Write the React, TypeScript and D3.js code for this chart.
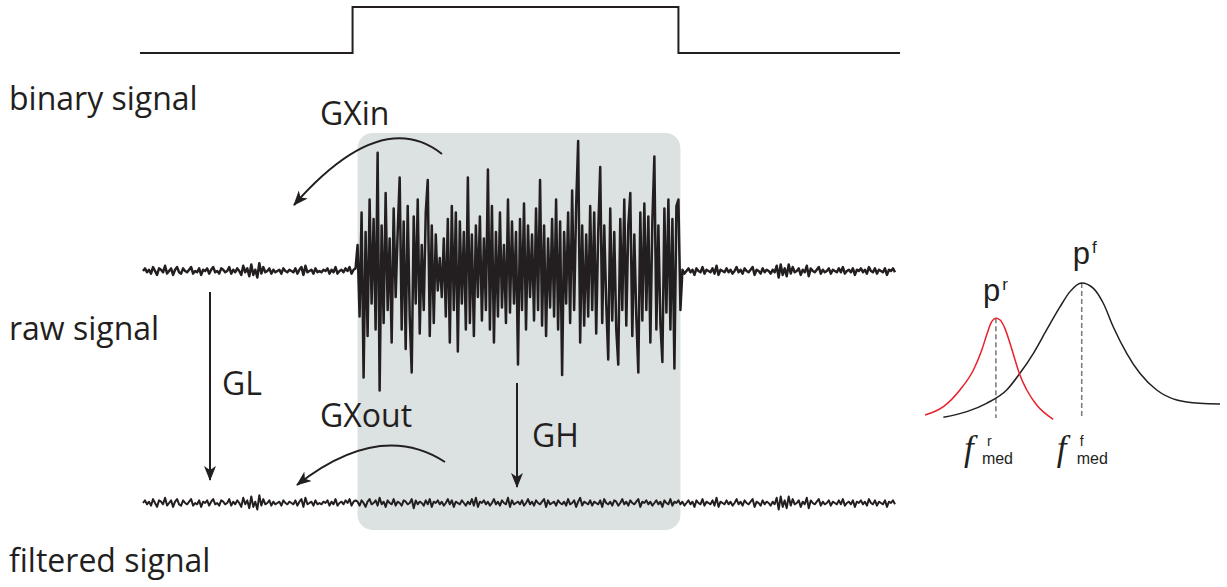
import React from 'react';
import * as d3 from 'd3';

// raw trace before the burst (arbitrary units, +-100 = full burst swing)
const quietLeft = [
  0, 2, -1, 1, -2, 3, 0, -3, 2, 1,
  -1, 4, -2, 0, 2, -3, 1, 3, -1, -2,
  2, 0, -1, 1, 3, -2, 0, -1, 2, -3,
  1, 0, 2, -2, 1, 3, -1, 0, -2, 2,
  1, -1, 0, 3, -2, 1, -1, 2, 0, -3,
  4, -1, 2, -4, 5, -3, 1, -5, 6, -2,
  3, -1, 0, 2, -2, 1, -1, 0, 1, -2,
  2, 0, -1, 1, 0, -1, 2, -2, 1, 3,
  -3, 4, -1, 0, 1, -2, 2, -1, 0, -1,
  1, 0, 2, -2, 1, -1, 3, -2, 0, 1,
  -1, 2, 0, 3, -2, 1, 2,
];

// raw trace during the burst
const burst = [
  20, -35, 45, -82, 30, -50, 55, -25, 40, -45,
  91, -92, 35, -40, 60, -30, 25, -55, 48, -20,
  30, 72, -45, 38, -60, 50, -35, -78, 42, -25,
  55, -48, 20, -30, 45, 70, -50, 35, -40, 28,
  -15, 10, -20, 25, -35, 40, -55, 50, -30, 45,
  -62, 38, -25, 30, -45, 72, -40, 28, -50, 35,
  -20, 42, -38, 25, -30, 78, -45, 50, -55, 30,
  -35, 45, -28, 20, -40, 55, -32, 38, -25, 30,
  -72, 40, -30, 52, -45, 35, -20, 28, -38, 48,
  -30, 70, -42, 35, -50, 25, -28, 40, -35, 55,
  -45, 38, -80, 30, -25, 45, -40, 62, -30, 50,
  100, -55, 35, -42, 28, -35, 50, -30, 45, -48,
  30, 80, -40, 35, -25, -68, 48, -38, 30, -45,
  -72, 40, -30, 55, -42, 35, 60, -50, 28, -35,
  -78, 45, -38, 52, -30, 42, -55, 38, 88, -45,
  35, -40, -70, 48, -32, 55, -45, 40, -75, 50,
  55, -30,
];

// raw trace after the burst
const quietRight = [
  1, -2, 0, 2, -1, 1, -3, 2, 0, -1,
  3, -2, 1, 0, -1, 2, -2, 4, -3, 1,
  0, -1, 2, -1, 1, -2, 0, 3, -1, 1,
  -2, 2, 0, -1, 1, 3, -3, 1, 0, -2,
  2, -1, 1, 0, -2, 1, -1, 4, -5, 5,
  -3, 2, -4, 5, -2, 3, -1, 0, 2, -3,
  1, -1, 4, -4, 2, 0, -1, 1, 3, -2,
  1, -1, 0, 2, -2, 1, 0, -1, 2, -1,
  3, -2, 0, 1, -1, 2, -3, 1, 0, 2,
  -1, 1, -2, 3, 0, -1, 2, -2, 1, 0,
  -1, 2, -3, 1, 0, 2, -1,
];

// filtered trace inside the burst window
const filteredBurst = [
  1, -2, 2, 0, -3, 1, 3, -1, 0, 2,
  -2, 4, -1, 1, -3, 2, 0, -1, 3, -2,
  1, 0, -2, 2, 1, -1, 0, 3, -4, 2,
  -1, 1, 0, -2, 2, -1, 3, -3, 1, 0,
  2, -1, 1, -2, 0, 3, -1, 2, -3, 1,
  0, -1, 2, 0, -2, 1, -1, 3, -2, 4,
  -3, 1, 0, 2, -1, 1, -2, 0, 3, -1,
  1, -2, 2, 0, -1, 4, -3, 2, -1, 0,
  1, -1, 2, -2, 0, 3, -1, 1, -2, 2,
  0, -1, 1, 3, -3, 2, -1, 0, 1, -2,
  2, 0, -1, 1, -2, 3, -1, 0, 2, -3,
  1, 4, -2, 1, 0, -1, 2, -2, 1, 0,
  -1, 2, -3, 3, 0, -1, 1, -2, 2, 1,
  -2, 0, 3, -1, 1, -2, 2, 0, -1, 1,
  3, -3, 1, 0, 2, -1, 1, -2, 0, 2,
  -1, 1, -3, 2, 0, -1, 3, -2, 1, 0,
  2, -1,
];

// binary on/off signal (time in samples)
const binaryTimes = [-1.5, 104.5, 104.5, 267, 267, 377.5];
const binaryLevels = [0, 0, 1, 1, 0, 0];

// power spectra: raw (red) and filtered (black)
const redFreq = [1.7, 7.8, 13.3, 17.8, 20.6, 22.4, 23.9, 25.3, 26.7, 28.3, 30, 31.7, 33.3, 35.6, 38.9, 44.4];
const redDens = [0.036, 0.097, 0.219, 0.365, 0.511, 0.633, 0.718, 0.742, 0.73, 0.669, 0.56, 0.438, 0.328, 0.219, 0.109, 0.005];
const blackFreq = [7.8, 15.6, 22.2, 28.9, 33.3, 37.8, 42.2, 46.7, 50, 53.9, 57.8, 61.1, 64.4, 68.9, 73.3, 78.9, 85.6, 93.3, 100];
const blackDens = [0.02, 0.061, 0.122, 0.219, 0.341, 0.487, 0.657, 0.827, 0.937, 1, 0.961, 0.852, 0.681, 0.487, 0.341, 0.219, 0.146, 0.122, 0.117];

const INK = '#231f20';
const SANS = '"Open Sans", sans-serif';
const ARIAL = '"Liberation Sans", Arial, sans-serif';
const SERIF = '"Liberation Serif", serif';

const App = () => {
  const raw = [...quietLeft, ...burst, ...quietRight];
  const filtered = [...quietLeft, ...filteredBurst, ...quietRight];

  const x = d3.scaleLinear().domain([0, raw.length - 1]).range([143, 895]);
  const yRaw = d3.scaleLinear().domain([-100, 100]).range([401, 141]);
  const yFilt = d3.scaleLinear().domain([-100, 100]).range([633, 373]);
  const yBin = d3.scaleLinear().domain([0, 1]).range([53, 7]);
  const fx = d3.scaleLinear().domain([0, 100]).range([920, 1220]);
  const py = d3.scaleLinear().domain([0, 1]).range([420, 283]);

  const trace = (ys: d3.ScaleLinear<number, number>) =>
    d3.line<number>().x((_, i) => x(i)).y(d => ys(d));

  const binaryPath = d3.line<number>()
    .x((_, i) => x(binaryTimes[i]))
    .y(d => yBin(d))(binaryLevels);

  const spectrum = (fs: number[], ds: number[]) =>
    d3.line<number>().curve(d3.curveMonotoneX)
      .x((_, i) => fx(fs[i]))
      .y(d => py(d))(ds);

  const redPeak = d3.maxIndex(redDens);
  const blackPeak = d3.maxIndex(blackDens);

  const boxL = x(quietLeft.length);
  const boxR = x(quietLeft.length + burst.length - 1);

  // curved arrows
  const gxin = d3.path();
  gxin.moveTo(442, 154);
  gxin.quadraticCurveTo(381, 106, 294, 205);
  const gxout = d3.path();
  gxout.moveTo(445, 462);
  gxout.quadraticCurveTo(380, 420, 297, 485);

  const rx = fx(redFreq[redPeak]);
  const bx = fx(blackFreq[blackPeak]);

  return (
    <svg width={1227} height={587} style={{ position: 'absolute', left: 0, top: 0, background: '#fff' }}>
      <defs>
        <marker id="head" viewBox="0 0 15 12" refX={14} refY={6} markerWidth={15} markerHeight={12}
          markerUnits="userSpaceOnUse" orient="auto">
          <path d="M0,0 L15,6 L0,12 L4,6 Z" fill={INK} />
        </marker>
      </defs>

      <rect x={boxL} y={133} width={boxR - boxL} height={397} rx={15} fill="#dce1e1" />

      <path d={binaryPath ?? ''} fill="none" stroke={INK} strokeWidth={2} />
      <path d={trace(yRaw)(raw) ?? ''} fill="none" stroke={INK} strokeWidth={2.5} strokeLinejoin="round" />
      <path d={trace(yFilt)(filtered) ?? ''} fill="none" stroke={INK} strokeWidth={2} strokeLinejoin="round" />

      {/* arrows */}
      <path d={gxin.toString()} fill="none" stroke={INK} strokeWidth={2} markerEnd="url(#head)" />
      <path d={gxout.toString()} fill="none" stroke={INK} strokeWidth={2} markerEnd="url(#head)" />
      <line x1={210} y1={292} x2={210} y2={480} stroke={INK} strokeWidth={2} markerEnd="url(#head)" />
      <line x1={517} y1={383} x2={517} y2={487} stroke={INK} strokeWidth={2} markerEnd="url(#head)" />

      <g fontFamily={SANS} fontSize={32} fill={INK}>
        <text x={9} y={110}>binary signal</text>
        <text x={9} y={340}>raw signal</text>
        <text x={9} y={572}>filtered signal</text>
        <text x={320} y={125}>GXin</text>
        <text x={320} y={427}>GXout</text>
        <text x={222} y={395}>GL</text>
        <text x={532} y={447}>GH</text>
      </g>

      {/* spectra */}
      <line x1={rx} y1={py(redDens[redPeak])} x2={rx} y2={418} stroke="#777" strokeWidth={1.5} strokeDasharray="5,3" />
      <line x1={bx} y1={py(blackDens[blackPeak])} x2={bx} y2={418} stroke="#777" strokeWidth={1.5} strokeDasharray="5,3" />
      <path d={spectrum(blackFreq, blackDens) ?? ''} fill="none" stroke={INK} strokeWidth={1.5} />
      <path d={spectrum(redFreq, redDens) ?? ''} fill="none" stroke="#e8202a" strokeWidth={1.5} />

      <g fontFamily={ARIAL} fill={INK}>
        <text x={rx - 13} y={301} fontSize={31}>p<tspan dx={2} dy={-11} fontSize={17}>r</tspan></text>
        <text x={bx - 9} y={264} fontSize={31}>p<tspan dx={2} dy={-11} fontSize={17}>f</tspan></text>

        <text x={rx - 32} y={460} fontFamily={SERIF} fontStyle="italic" fontSize={35}>f</text>
        <text x={rx - 9} y={446} fontSize={14}>r</text>
        <text x={rx - 14} y={464} fontSize={16}>med</text>

        <text x={bx - 25} y={460} fontFamily={SERIF} fontStyle="italic" fontSize={35}>f</text>
        <text x={bx - 2} y={446} fontSize={14}>f</text>
        <text x={bx - 5} y={464} fontSize={16}>med</text>
      </g>
    </svg>
  );
};

export default App;
